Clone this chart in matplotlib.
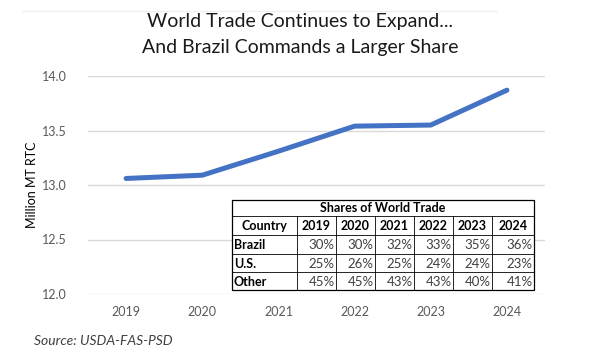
import matplotlib.pyplot as plt
import numpy as np

years = ["2019", "2020", "2021", "2022", "2023", "2024"]
trade = [13.06, 13.09, 13.31, 13.54, 13.55, 13.87]

table_title = "Shares of World Trade"
table_header = ["Country"] + years
countries = ["Brazil", "U.S.", "Other"]
shares = [
    [30, 30, 32, 33, 35, 36],
    [25, 26, 25, 24, 24, 23],
    [45, 45, 43, 43, 40, 41],
]

plt.rcParams["font.family"] = ["Lato", "DejaVu Sans"]

W, H = 591, 359
fig = plt.figure(figsize=(W / 100, H / 100), dpi=100)

# main chart axes (pixel geometry)
left, right, top, bottom = 88, 545, 76, 294
ax = fig.add_axes([left / W, 1 - bottom / H, (right - left) / W, (bottom - top) / H])
x = np.arange(len(years))
ax.plot(x, trade, color="#4472C4", lw=3.6, solid_capstyle="round", zorder=3)
ax.set_xlim(-0.5, len(years) - 0.5)
ax.set_ylim(12.0, 14.0)
ax.set_yticks(np.arange(12.0, 14.01, 0.5))
ax.set_yticklabels([f"{v:.1f}" for v in np.arange(12.0, 14.01, 0.5)])
ax.set_xticks(x)
ax.set_xticklabels(years)
ax.grid(axis="y", color="#d9d9d9", lw=1)
ax.set_axisbelow(True)
for s in ax.spines.values():
    s.set_visible(False)
ax.tick_params(length=0, colors="#595959", labelsize=9)
ax.tick_params(axis="x", pad=9)
ax.tick_params(axis="y", pad=15)
ax.set_ylabel("Million MT RTC", fontsize=9, color="black", labelpad=3)

# overlay in pixel coordinates for title, table and source
ov = fig.add_axes([0, 0, 1, 1], facecolor="none")
ov.set_xlim(0, W)
ov.set_ylim(H, 0)
ov.axis("off")

ov.plot([22, 497], [11, 11], color="#eeeeee", lw=0.8)
ov.text(300, 22, "World Trade Continues to Expand...", ha="center", va="center",
        fontsize=14, color="#1a1a1a")
ov.text(300, 48, "And Brazil Commands a Larger Share", ha="center", va="center",
        fontsize=14, color="#1a1a1a")
ov.text(34, 341, "Source: USDA-FAS-PSD", ha="left", va="center", fontsize=10,
        style="italic", color="#404040")

# table
col_edges = [232, 297, 336, 375, 414, 453, 492, 534]
row_edges = [200, 216, 235, 254, 272, 290]
t0, t1 = col_edges[0], col_edges[-1]
ov.add_patch(plt.Rectangle((t0, row_edges[0]), t1 - t0, row_edges[-1] - row_edges[0],
                           facecolor="white", edgecolor="black", lw=0.9, zorder=4))
for y in row_edges[1:-1]:
    ov.plot([t0, t1], [y, y], color="black", lw=0.6, zorder=5)
for xe in col_edges[1:-1]:
    ov.plot([xe, xe], [row_edges[1], row_edges[-1]], color="black", lw=0.6, zorder=5)

ov.text((t0 + t1) / 2, (row_edges[0] + row_edges[1]) / 2 + 0.5, table_title,
        ha="center", va="center", fontsize=9, fontweight="bold", zorder=6)
ymid = (row_edges[1] + row_edges[2]) / 2 + 0.5
for j, lab in enumerate(table_header):
    ov.text((col_edges[j] + col_edges[j + 1]) / 2, ymid, lab, ha="center", va="center",
            fontsize=9, fontweight="bold", zorder=6)
for i, name in enumerate(countries):
    ym = (row_edges[i + 2] + row_edges[i + 3]) / 2 + 0.5
    ov.text(col_edges[0] + 2, ym, name, ha="left", va="center", fontsize=9,
            fontweight="bold", zorder=6)
    for j, v in enumerate(shares[i]):
        ov.text(col_edges[j + 2] - 1.5, ym, f"{v}%", ha="right", va="center",
                fontsize=9.5, color="#404040", zorder=6)

fig.savefig("out.png", dpi=100)
